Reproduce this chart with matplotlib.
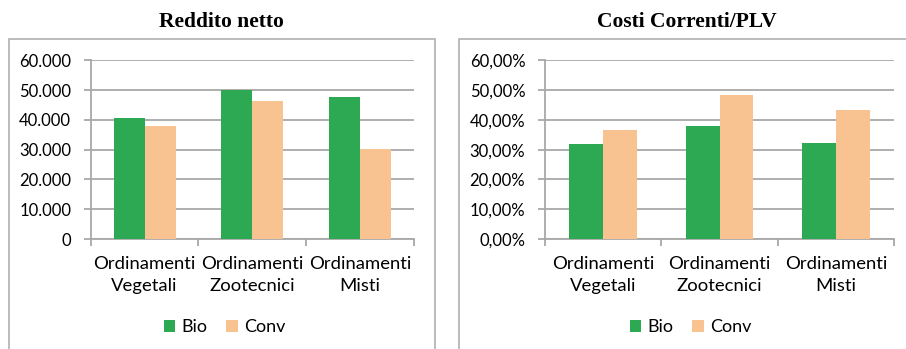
import numpy as np
import matplotlib.pyplot as plt
from matplotlib.patches import Rectangle
from matplotlib.ticker import FuncFormatter

categorie = ['Ordinamenti\nVegetali', 'Ordinamenti\nZootecnici', 'Ordinamenti\nMisti']
serie = ['Bio', 'Conv']
reddito_bio = [40500, 50000, 47700]
reddito_conv = [38000, 46200, 30200]
costi_bio = [31.9, 37.9, 32.1]
costi_conv = [36.7, 48.2, 43.4]

verde = '#2CA952'
arancio = '#F8C391'
grigio = '#A8A8A8'

plt.rcParams['font.family'] = ['Lato', 'DejaVu Sans']

fig = plt.figure(figsize=(9.06, 3.49), dpi=100)
W, H = 906, 349

def px(x0, y0, x1, y1):
    # pixel box -> figure fraction [left, bottom, width, height]
    return [x0 / W, 1 - y1 / H, (x1 - x0) / W, (y1 - y0) / H]

# cornici dei pannelli
for x0, x1 in [(8.5, 435), (458.5, 920)]:
    fig.patches.append(Rectangle((x0 / W, -0.1), (x1 - x0) / W, 1.1 - 39.5 / H,
                                 transform=fig.transFigure, fill=False,
                                 edgecolor='#B0B0B0', linewidth=1.2))

def pannello(box, bio, conv, ymax, fmt, titolo, tx, lx):
    ax = fig.add_axes(px(*box))
    x = np.arange(len(categorie))
    w = 0.288
    ax.bar(x - w / 2, bio, w, color=verde, label=serie[0], zorder=3)
    ax.bar(x + w / 2, conv, w, color=arancio, label=serie[1], zorder=3)
    ax.set_xlim(-0.5, 2.5)
    ax.set_ylim(0, ymax)
    ax.set_yticks(np.linspace(0, ymax, 7))
    ax.yaxis.set_major_formatter(FuncFormatter(fmt))
    ax.grid(axis='y', color=grigio, linewidth=1.3, zorder=0)
    for s in ['top', 'right']:
        ax.spines[s].set_visible(False)
    for s in ['left', 'bottom']:
        ax.spines[s].set_color(grigio)
        ax.spines[s].set_linewidth(1.3)
    ax.set_xticks([-0.5, 0.5, 1.5, 2.5])
    ax.set_xticklabels([])
    ax.set_xticks(x, minor=True)
    ax.set_xticklabels(categorie, minor=True, fontsize=13.3, linespacing=1.45)
    ax.tick_params(axis='x', which='major', length=5, color=grigio, width=1.3)
    ax.tick_params(axis='x', which='minor', length=0, pad=12)
    ax.tick_params(axis='y', length=5, color=grigio, width=1.3, labelsize=12, pad=9)
    ax.legend(loc='center', bbox_to_anchor=(lx / W, 1 - 327 / H),
              bbox_transform=fig.transFigure, ncol=2,
              frameon=False, fontsize=13, handlelength=0.65, handleheight=0.65,
              handletextpad=0.35, columnspacing=1.0)
    fig.text(tx / W, 1 - 22 / H, titolo, ha='center', va='center',
             family='Liberation Serif', fontweight='bold', fontsize=15.5)
    return ax

pannello((90.7, 60.3, 414, 239), reddito_bio, reddito_conv, 60000,
         lambda v, p: '0' if v == 0 else f'{int(v):,}'.replace(',', '.'),
         'Reddito netto', 221.5, 224.5)
pannello((544.7, 60.3, 894.3, 239), costi_bio, costi_conv, 60,
         lambda v, p: f'{v:.2f}%'.replace('.', ','),
         'Costi Correnti/PLV', 687, 690.5)

fig.savefig('out.png', dpi=100)
